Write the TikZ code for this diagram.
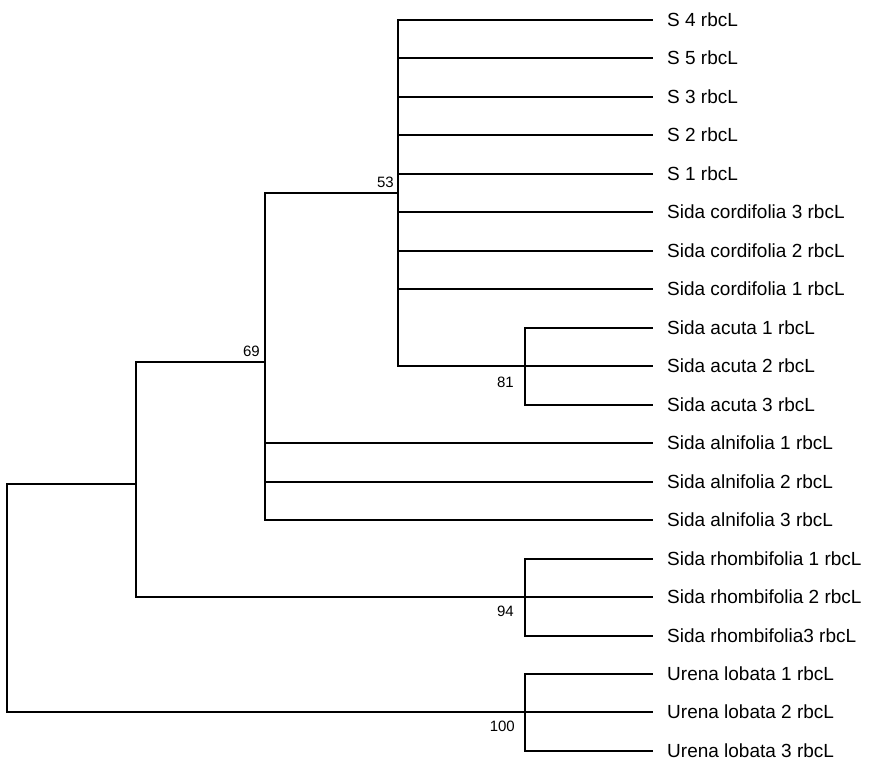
\documentclass[tikz,border=0pt]{standalone}
\usepackage{fontspec}
\setmainfont{Liberation Sans}
\usepackage{tikz}

\begin{document}
\begin{tikzpicture}[x=1pt, y=-1pt,
  leaf/.style={anchor=west, inner xsep=15pt, inner ysep=0pt,
              font=\fontsize{19}{21}\selectfont},
  boot/.style={inner sep=0pt, font=\fontsize{15}{17}\selectfont},
  branch/.style={line width=2pt, line cap=rect}
]
  \useasboundingbox (0,0) rectangle (876,760);

  % leaves
  \node[leaf] (s4)    at (652, 20)  {S 4 rbcL};
  \node[leaf] (s5)    at (652, 58)  {S 5 rbcL};
  \node[leaf] (s3)    at (652, 97)  {S 3 rbcL};
  \node[leaf] (s2)    at (652, 135) {S 2 rbcL};
  \node[leaf] (s1)    at (652, 174) {S 1 rbcL};
  \node[leaf] (cord3) at (652, 212) {Sida cordifolia 3 rbcL};
  \node[leaf] (cord2) at (652, 251) {Sida cordifolia 2 rbcL};
  \node[leaf] (cord1) at (652, 289) {Sida cordifolia 1 rbcL};
  \node[leaf] (acu1)  at (652, 328) {Sida acuta 1 rbcL};
  \node[leaf] (acu2)  at (652, 366) {Sida acuta 2 rbcL};
  \node[leaf] (acu3)  at (652, 405) {Sida acuta 3 rbcL};
  \node[leaf] (aln1)  at (652, 443) {Sida alnifolia 1 rbcL};
  \node[leaf] (aln2)  at (652, 482) {Sida alnifolia 2 rbcL};
  \node[leaf] (aln3)  at (652, 520) {Sida alnifolia 3 rbcL};
  \node[leaf] (rho1)  at (652, 559) {Sida rhombifolia 1 rbcL};
  \node[leaf] (rho2)  at (652, 597) {Sida rhombifolia 2 rbcL};
  \node[leaf] (rho3)  at (652, 636) {Sida rhombifolia3 rbcL};
  \node[leaf] (ure1)  at (652, 674) {Urena lobata 1 rbcL};
  \node[leaf] (ure2)  at (652, 712) {Urena lobata 2 rbcL};
  \node[leaf] (ure3)  at (652, 751) {Urena lobata 3 rbcL};

  % internal nodes
  \coordinate (n81)   at (525, 366);
  \coordinate (n53)   at (398, 193);
  \coordinate (n69)   at (265, 362);
  \coordinate (n94)   at (525, 597);
  \coordinate (nsida) at (136, 484);
  \coordinate (n100)  at (525, 712);
  \coordinate (root)  at (7, 597);

  % branches
  \draw[branch] (n81) |- (acu1.west) (n81) |- (acu3.west) (n81) -- (acu2.west);
  \draw[branch] (n53) |- (s4.west) (n53) |- (s5.west) (n53) |- (s3.west)
    (n53) |- (s2.west) (n53) |- (s1.west) (n53) |- (cord3.west)
    (n53) |- (cord2.west) (n53) |- (cord1.west) (n53) |- (n81);
  \draw[branch] (n69) |- (n53) (n69) |- (aln1.west) (n69) |- (aln2.west)
    (n69) |- (aln3.west);
  \draw[branch] (n94) |- (rho1.west) (n94) |- (rho3.west) (n94) -- (rho2.west);
  \draw[branch] (nsida) |- (n69) (nsida) |- (n94);
  \draw[branch] (n100) |- (ure1.west) (n100) |- (ure3.west) (n100) -- (ure2.west);
  \draw[branch] (root) |- (nsida) (root) |- (n100);

  % bootstrap values
  \node[boot, anchor=south east] (b53)  at ([xshift=-4pt, yshift=5pt]n53)    {53};
  \node[boot, anchor=south east] (b69)  at ([xshift=-5pt, yshift=5pt]n69)    {69};
  \node[boot, anchor=north east] (b81)  at ([xshift=-11pt, yshift=-11pt]n81) {81};
  \node[boot, anchor=north east] (b94)  at ([xshift=-11pt, yshift=-9pt]n94)  {94};
  \node[boot, anchor=north east] (b100) at ([xshift=-10pt, yshift=-9pt]n100) {100};
\end{tikzpicture}
\end{document}
